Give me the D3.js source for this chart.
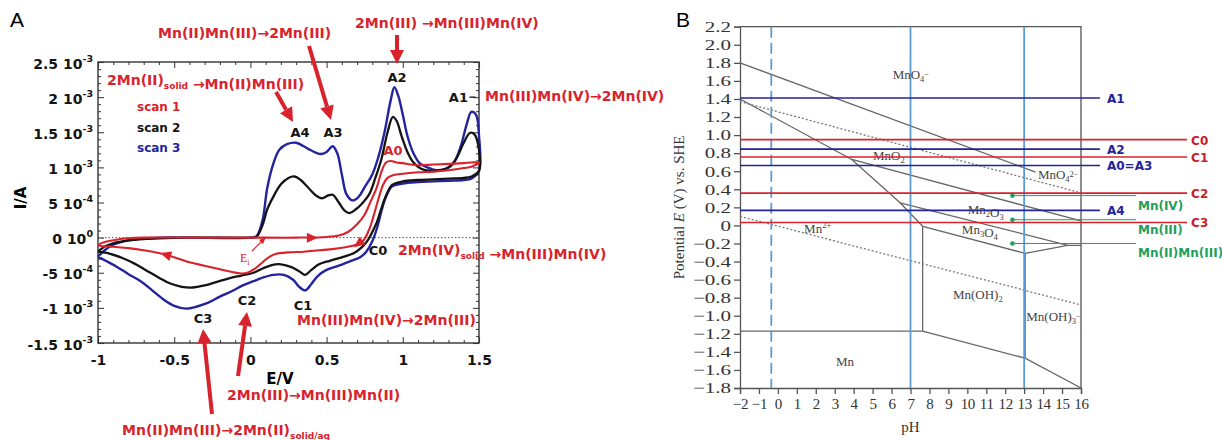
<!DOCTYPE html>
<html><head><meta charset="utf-8">
<script src="https://cdn.jsdelivr.net/npm/d3@7"></script>
<style>
body{margin:0;background:#fff;}
svg{display:block;}
</style></head><body>
<svg id="fig" width="1222" height="440"></svg>
<script>
// ---------- Panel A: cyclic voltammograms (E in V, I in mA) ----------
const scan1 = [
  [0.10,0.0],[0.30,0.0],[0.50,0.01],[0.58,0.03],[0.64,0.08],[0.70,0.19],[0.75,0.33],[0.79,0.52],
  [0.83,0.72],[0.86,0.94],[0.89,1.07],[0.92,1.09],[0.96,1.07],[1.00,1.06],[1.05,1.04],[1.10,1.03],
  [1.20,1.04],[1.30,1.05],[1.40,1.06],[1.45,1.07],[1.50,1.07],
  [1.45,1.01],[1.40,0.99],[1.30,0.96],[1.20,0.94],[1.10,0.93],[1.00,0.91],[0.94,0.89],[0.90,0.85],
  [0.87,0.75],[0.84,0.55],[0.81,0.32],[0.78,0.12],[0.745,-0.03],[0.71,-0.09],[0.64,-0.13],[0.55,-0.16],
  [0.45,-0.18],[0.35,-0.20],[0.25,-0.21],[0.17,-0.23],[0.12,-0.28],[0.08,-0.35],[0.03,-0.44],
  [-0.02,-0.50],[-0.06,-0.51],[-0.12,-0.49],[-0.20,-0.45],[-0.30,-0.40],[-0.40,-0.35],[-0.50,-0.28],
  [-0.60,-0.22],[-0.70,-0.18],[-0.80,-0.15],[-0.90,-0.13],[-1.00,-0.11],
  [-0.95,-0.06],[-0.88,-0.03],[-0.80,-0.01],[-0.70,0.0],[-0.40,0.0],[0.00,0.0],[0.10,0.0]
];
const scan2 = [
  [-1.00,-0.20],[-0.95,-0.12],[-0.90,-0.08],[-0.80,-0.04],[-0.70,-0.02],[-0.60,-0.01],[-0.40,0.0],
  [0.00,0.0],[0.04,0.01],[0.08,0.18],[0.11,0.40],[0.15,0.58],[0.20,0.76],[0.25,0.85],[0.29,0.87],
  [0.33,0.82],[0.38,0.71],[0.43,0.60],[0.47,0.56],[0.51,0.60],[0.54,0.61],[0.58,0.50],[0.62,0.38],
  [0.65,0.35],[0.69,0.40],[0.73,0.48],[0.78,0.62],[0.82,0.85],[0.86,1.12],[0.90,1.50],[0.935,1.72],
  [0.96,1.66],[0.99,1.46],[1.03,1.22],[1.07,1.07],[1.12,0.98],[1.18,0.95],[1.25,0.96],[1.30,1.00],
  [1.35,1.12],[1.40,1.35],[1.44,1.49],[1.47,1.47],[1.50,1.25],[1.50,0.95],
  [1.45,0.87],[1.40,0.85],[1.30,0.84],[1.20,0.83],[1.10,0.82],[1.00,0.80],[0.93,0.75],[0.89,0.60],
  [0.86,0.42],[0.83,0.22],[0.80,0.08],[0.77,-0.04],[0.73,-0.14],[0.68,-0.22],[0.60,-0.28],
  [0.52,-0.33],[0.45,-0.38],[0.40,-0.46],[0.36,-0.53],[0.32,-0.48],[0.27,-0.42],[0.20,-0.38],
  [0.14,-0.39],[0.08,-0.44],[0.02,-0.50],[-0.06,-0.54],[-0.14,-0.58],[-0.22,-0.63],[-0.30,-0.68],
  [-0.38,-0.71],[-0.45,-0.70],[-0.53,-0.65],[-0.60,-0.57],[-0.68,-0.47],[-0.76,-0.37],
  [-0.84,-0.29],[-0.92,-0.23],[-1.00,-0.20]
];
const scan3 = [
  [-1.00,-0.27],[-0.95,-0.17],[-0.90,-0.10],[-0.80,-0.04],[-0.70,-0.01],[-0.60,0.0],[-0.40,0.0],
  [0.00,0.0],[0.04,0.02],[0.08,0.25],[0.11,0.70],[0.15,1.05],[0.19,1.25],[0.24,1.33],[0.30,1.35],
  [0.35,1.30],[0.40,1.24],[0.46,1.19],[0.50,1.22],[0.54,1.30],[0.57,1.20],[0.60,0.90],[0.63,0.62],
  [0.67,0.53],[0.71,0.58],[0.75,0.72],[0.80,0.90],[0.84,1.15],[0.88,1.50],[0.92,1.95],[0.945,2.14],
  [0.97,2.02],[1.00,1.75],[1.03,1.45],[1.07,1.20],[1.11,1.06],[1.16,1.00],[1.22,0.96],[1.28,0.98],
  [1.33,1.05],[1.38,1.30],[1.42,1.62],[1.45,1.79],[1.48,1.75],[1.50,1.45],[1.50,0.95],
  [1.45,0.84],[1.40,0.82],[1.30,0.81],[1.20,0.80],[1.10,0.79],[1.00,0.77],[0.93,0.73],[0.89,0.58],
  [0.86,0.38],[0.83,0.13],[0.80,-0.05],[0.76,-0.20],[0.72,-0.28],[0.65,-0.34],[0.58,-0.40],
  [0.50,-0.46],[0.44,-0.55],[0.40,-0.66],[0.36,-0.75],[0.32,-0.70],[0.28,-0.60],[0.22,-0.53],
  [0.15,-0.53],[0.08,-0.57],[0.02,-0.62],[-0.05,-0.68],[-0.12,-0.76],[-0.20,-0.84],[-0.28,-0.93],
  [-0.35,-0.98],[-0.42,-1.01],[-0.50,-0.97],[-0.57,-0.88],[-0.65,-0.74],[-0.72,-0.62],
  [-0.80,-0.52],[-0.88,-0.41],[-0.95,-0.33],[-1.00,-0.27]
];
const scanNames = ["scan 1", "scan 2", "scan 3"];
// direction arrows along scan 1: [fromE, fromI, toE, toI]
const scan1Arrows = [[0.34,0.0,0.41,0.0],[0.75,-0.02,0.705,-0.095],[-0.49,-0.285,-0.56,-0.24]];
const eTicks = [-1, -0.5, 0, 0.5, 1, 1.5];
const iTicks = [2.5, 2, 1.5, 1, 0.5, 0, -0.5, -1, -1.5];
const iTickMant = ["2.5 10", "2 10", "1.5 10", "1 10", "5 10", "0 10", "-5 10", "-1 10", "-1.5 10"];
const iTickExp = ["-3", "-3", "-3", "-3", "-4", "0", "-4", "-3", "-3"];
// peak labels [name, E, I]
const anodicPeaks = [["A4",0.325,1.50],["A3",0.542,1.50],["A2",0.962,2.29],["A1",1.365,2.00]];
const cathodicPeaks = [["C0",0.837,-0.18],["C1",0.345,-0.96],["C2",-0.022,-0.89],["C3",-0.311,-1.15]];

// ---------- Panel B: Pourbaix diagram (pH, E vs SHE) ----------
const pHTicks = d3.range(-2, 17, 1);
const potTicks = d3.range(-18, 23, 2).map(v => v / 10);
const boundaries = [
  [[-2,1.80],[13.6,0.59]],
  [[-2,1.40],[3.9,0.73],[6.45,0.25],[7.64,-0.01]],
  [[3.9,0.73],[16,0.05]],
  [[6.45,0.25],[15.3,-0.22]],
  [[7.64,-0.01],[13.05,-0.31],[15.3,-0.22],[16,-0.22]],
  [[7.64,-0.01],[7.64,-1.17]],
  [[-2,-1.17],[7.64,-1.17]],
  [[7.64,-1.17],[13.05,-1.47],[16,-1.80]],
  [[13.05,-0.31],[13.05,-1.47]]
];
const waterLines = [
  [[-2,1.37],[16,0.36]],
  [[-2,0.10],[16,-0.88]]
];
const markedPH = [7, 13];
const dashedPH = [-0.35];
const anodicNames = ["A1", "A2", "A0=A3", "A4"];
const anodicE = [1.41, 0.845, 0.664, 0.166];
const cathodicNames = ["C0", "C1", "C2", "C3"];
const cathodicE = [0.95, 0.757, 0.358, 0.033];
const oxNames = ["Mn(IV)", "Mn(III)", "Mn(II)Mn(III)"];
const oxE = [0.33, 0.063, -0.20];
const oxPH = 12.38;
// species labels [text parts, pH, E]
const species = [
  [[["MnO",""],["4","sub"],["\u2212","sup"]], 7.02, 1.67],
  [[["MnO",""],["2","sub"]], 5.86, 0.77],
  [[["MnO",""],["4","sub"],["2\u2212","sup"]], 14.8, 0.56],
  [[["Mn",""],["2","sub"],["O",""],["3","sub"]], 10.97, 0.17],
  [[["Mn",""],["3","sub"],["O",""],["4","sub"]], 10.66, -0.05],
  [[["Mn",""],["2+","sup"]], 2.1, -0.04],
  [[["Mn(OH)",""],["2","sub"]], 10.55, -0.77],
  [[["Mn(OH)",""],["3","sub"],["\u2212","sup"]], 14.55, -1.01],
  [[["Mn",""]], 3.54, -1.51]
];

const RED = "#d8232c", BLUE = "#23239c", BLACK = "#141414", GREEN = "#1f9e5a", LBLUE = "#5b9bd3";
const svg = d3.select("#fig");
const sans = "'DejaVu Sans', Verdana, sans-serif";
const plain = "'Liberation Sans', Arial, sans-serif";
const serif = "'Liberation Serif', 'Times New Roman', serif";

// ================= Panel A =================
const xA = d3.scaleLinear().domain([-1, 1.5]).range([98, 479]);
const yA = d3.scaleLinear().domain([-1.5, 2.5]).range([343, 62]);
const gA = svg.append("g");

svg.append("text").attr("x", 10).attr("y", 27).attr("font-family", plain)
  .attr("font-size", 21).text("A");

// zero-current guide
gA.append("line").attr("x1", xA(-1)).attr("x2", xA(1.5)).attr("y1", yA(0)).attr("y2", yA(0))
  .attr("stroke", "#555").attr("stroke-width", 1).attr("stroke-dasharray", "1.5,2");

// minor ticks on all four sides (inward)
const minorE = d3.range(-10, 16).map(v => v / 10).filter(v => !eTicks.some(t => Math.abs(t - v) < 1e-9));
const minorI = d3.range(-15, 26).map(v => v / 10).filter(v => !iTicks.some(t => Math.abs(t - v) < 1e-9));
function tickAxis(axis, transform) {
  const g = gA.append("g").attr("transform", transform).call(axis);
  g.select(".domain").remove();
  g.selectAll("line").attr("stroke", "#444").attr("stroke-width", 1.1);
  return g;
}
tickAxis(d3.axisBottom(xA).tickValues(minorE).tickSize(-3).tickFormat(""), `translate(0,${yA(-1.5)})`);
tickAxis(d3.axisTop(xA).tickValues(minorE).tickSize(-3).tickFormat(""), `translate(0,${yA(2.5)})`);
tickAxis(d3.axisLeft(yA).tickValues(minorI).tickSize(-3).tickFormat(""), `translate(${xA(-1)},0)`);
tickAxis(d3.axisRight(yA).tickValues(minorI).tickSize(-3).tickFormat(""), `translate(${xA(1.5)},0)`);
tickAxis(d3.axisTop(xA).tickValues(eTicks).tickSize(-6).tickFormat(""), `translate(0,${yA(2.5)})`);
tickAxis(d3.axisRight(yA).tickValues(iTicks).tickSize(-6).tickFormat(""), `translate(${xA(1.5)},0)`);

const axB = tickAxis(d3.axisBottom(xA).tickValues(eTicks).tickSize(-6).tickPadding(9)
  .tickFormat(d => d3.format("")(d).replace("\u2212", "-")), `translate(0,${yA(-1.5)})`);
axB.selectAll("text").attr("font-family", sans).attr("font-weight", "bold").attr("font-size", 14)
  .attr("fill", BLACK).attr("dy", "0.95em");

const axL = tickAxis(d3.axisLeft(yA).tickValues(iTicks).tickSize(-6).tickPadding(6).tickFormat(""),
  `translate(${xA(-1)},0)`);
axL.selectAll(".tick").each(function (d, i) {
  const t = d3.select(this).append("text").attr("x", -5).attr("y", 6)
    .attr("text-anchor", "end").attr("font-family", sans).attr("font-weight", "bold")
    .attr("font-size", 14).attr("fill", BLACK);
  t.append("tspan").text(iTickMant[i]);
  t.append("tspan").attr("font-size", 9.5).attr("dy", -7).text(iTickExp[i]);
});

gA.append("rect").attr("x", xA(-1)).attr("y", yA(2.5)).attr("width", xA(1.5) - xA(-1))
  .attr("height", yA(-1.5) - yA(2.5)).attr("fill", "none").attr("stroke", "#333").attr("stroke-width", 1.4);

gA.append("text").attr("x", 280).attr("y", 384).attr("text-anchor", "middle").attr("font-family", sans)
  .attr("font-weight", "bold").attr("font-size", 15).text("E/V");
gA.append("text").attr("transform", "translate(26,198) rotate(-90)").attr("text-anchor", "middle")
  .attr("font-family", sans).attr("font-weight", "bold").attr("font-size", 15).text("I/A");

// voltammograms
const cvLine = d3.line().x(d => xA(d[0])).y(d => yA(d[1])).curve(d3.curveCatmullRom.alpha(0.5));
[[scan3, BLUE, 2.4], [scan2, BLACK, 2.3], [scan1, RED, 2.1]].forEach(([data, col, w]) => {
  gA.append("path").datum(data).attr("d", cvLine).attr("fill", "none").attr("stroke", col)
    .attr("stroke-width", w).attr("stroke-linejoin", "round");
});
scan1Arrows.forEach(a => {
  const x1 = xA(a[0]), y1 = yA(a[1]), x2 = xA(a[2]), y2 = yA(a[3]);
  const ang = Math.atan2(y2 - y1, x2 - x1) * 180 / Math.PI;
  gA.append("path").attr("d", "M5,0 L-6,-5 L-6,5 Z").attr("fill", RED)
    .attr("transform", `translate(${x2},${y2}) rotate(${ang})`);
});

// legend
scanNames.forEach((n, i) => {
  gA.append("text").attr("x", 137).attr("y", 111 + i * 20.5).attr("font-family", sans)
    .attr("font-weight", "bold").attr("font-size", 12).attr("fill", [RED, BLACK, BLUE][i]).text(n);
});

// peak labels
anodicPeaks.concat(cathodicPeaks).forEach(p => {
  gA.append("text").attr("x", xA(p[1])).attr("y", yA(p[2]) + 5).attr("text-anchor", "middle")
    .attr("font-family", sans).attr("font-weight", "bold").attr("font-size", 13).attr("fill", BLACK)
    .text(p[0]);
});
gA.append("line").attr("x1", xA(1.365) + 11).attr("x2", xA(1.365) + 17).attr("y1", yA(2.0))
  .attr("y2", yA(2.0)).attr("stroke", BLACK).attr("stroke-width", 1.3);
gA.append("text").attr("x", xA(0.936)).attr("y", yA(1.25) + 5).attr("text-anchor", "middle")
  .attr("font-family", sans).attr("font-weight", "bold").attr("font-size", 13).attr("fill", RED).text("A0");

// reaction annotations
function rxn(x, y, parts) {
  const t = svg.append("text").attr("x", x).attr("y", y).attr("font-family", sans)
    .attr("font-weight", "bold").attr("font-size", 14).attr("fill", RED);
  parts.forEach(p => {
    if (p[1] === "sub") {
      t.append("tspan").attr("font-size", 9).attr("dy", 4).text(p[0]);
      t.append("tspan").attr("dy", -4).text("");
    } else t.append("tspan").text(p[0]);
  });
  return t;
}
rxn(158, 38, [["Mn(II)Mn(III)\u21922Mn(III)"]]);
rxn(355, 28, [["2Mn(III) \u2192Mn(III)Mn(IV)"]]);
rxn(107, 85, [["2Mn(II)"], ["solid", "sub"], [" \u2192Mn(II)Mn(III)"]]);
rxn(485, 101, [["Mn(III)Mn(IV)\u21922Mn(IV)"]]);
rxn(398, 255, [["2Mn(IV)"], ["solid", "sub"], [" \u2192Mn(III)Mn(IV)"]]);
rxn(297, 325, [["Mn(III)Mn(IV)\u21922Mn(III)"]]);
rxn(227, 400, [["2Mn(III)\u2192Mn(III)Mn(II)"]]);
rxn(122, 435, [["Mn(II)Mn(III)\u21922Mn(II)"], ["solid/aq", "sub"]]);

function bigArrow(x1, y1, x2, y2) {
  const ang = Math.atan2(y2 - y1, x2 - x1);
  const hl = 14, hw = 7;
  const bx = x2 - hl * Math.cos(ang), by = y2 - hl * Math.sin(ang);
  svg.append("line").attr("x1", x1).attr("y1", y1).attr("x2", bx).attr("y2", by)
    .attr("stroke", RED).attr("stroke-width", 4);
  const px = -Math.sin(ang) * hw, py = Math.cos(ang) * hw;
  svg.append("path").attr("d", `M${x2},${y2}L${bx + px},${by + py}L${bx - px},${by - py}Z`).attr("fill", RED);
}
bigArrow(309, 46, 331, 120);
bigArrow(397, 35, 397, 64);
bigArrow(276, 92, 293, 122);
bigArrow(212, 414, 203, 329);
bigArrow(238, 376, 247, 312);

// E_i marker
const ei = svg.append("text").attr("x", 240).attr("y", 262).attr("font-family", serif)
  .attr("font-size", 12).attr("fill", RED);
ei.append("tspan").text("E");
ei.append("tspan").attr("font-size", 8).attr("dy", 3).text("i");
svg.append("line").attr("x1", 252).attr("y1", 251).attr("x2", 262).attr("y2", 241)
  .attr("stroke", RED).attr("stroke-width", 1.2);
svg.append("path").attr("d", "M266,237 L259,240 L263,244 Z").attr("fill", RED);

// ================= Panel B =================
const xB = d3.scaleLinear().domain([-2, 16]).range([740, 1081]);
const yB = d3.scaleLinear().domain([-1.8, 2.2]).range([388, 26.7]);
const gB = svg.append("g");
const GRAY = "#555";

svg.append("text").attr("x", 676).attr("y", 27).attr("font-family", plain)
  .attr("font-size", 21).text("B");

const bx = gB.append("g").attr("transform", `translate(0,${yB(-1.8)})`)
  .call(d3.axisBottom(xB).tickValues(pHTicks).tickSize(6).tickPadding(4)
    .tickFormat(d => d < 0 ? "\u2212" + Math.abs(d) : d));
const by = gB.append("g").attr("transform", `translate(${xB(-2)},0)`)
  .call(d3.axisLeft(yB).tickValues(potTicks).tickSize(6).tickPadding(3)
    .tickFormat(d => Math.abs(d) < 1e-9 ? "0" : (d < 0 ? "\u2212" + d3.format(".1f")(-d) : d3.format(".1f")(d))));
[bx, by].forEach(g => {
  g.selectAll("line, path").attr("stroke", GRAY).attr("stroke-width", 1.3);
  g.selectAll("text").attr("font-family", serif).attr("font-size", 15).attr("fill", "#333");
});
bx.selectAll("text").attr("letter-spacing", "-0.3px");
// the potential labels are set wide
by.selectAll("text").each(function () {
  const len = this.getComputedTextLength();
  d3.select(this).attr("textLength", len * 1.4).attr("lengthAdjust", "spacingAndGlyphs");
});
gB.append("path").attr("d", `M${xB(-2)},${yB(2.2)}H${xB(16)}V${yB(-1.8)}`)
  .attr("fill", "none").attr("stroke", GRAY).attr("stroke-width", 1.3);

gB.append("text").attr("x", xB(7)).attr("y", 432).attr("text-anchor", "middle")
  .attr("font-family", serif).attr("font-size", 15).attr("fill", "#333").text("pH");
const yt = gB.append("text").attr("transform", `translate(684,${yB(0.2)}) rotate(-90)`)
  .attr("text-anchor", "middle").attr("font-family", serif).attr("font-size", 15).attr("fill", "#333");
yt.append("tspan").text("Potential ");
yt.append("tspan").attr("font-style", "italic").text("E");
yt.append("tspan").text(" (V) vs. SHE");

const pLine = d3.line().x(d => xB(d[0])).y(d => yB(d[1]));
boundaries.forEach(b => gB.append("path").datum(b).attr("d", pLine).attr("fill", "none")
  .attr("stroke", "#666").attr("stroke-width", 1.3));
waterLines.forEach(b => gB.append("path").datum(b).attr("d", pLine).attr("fill", "none")
  .attr("stroke", "#777").attr("stroke-width", 1.3).attr("stroke-dasharray", "2,2"));

markedPH.forEach(p => gB.append("line").attr("x1", xB(p)).attr("x2", xB(p)).attr("y1", yB(2.2))
  .attr("y2", yB(-1.8)).attr("stroke", LBLUE).attr("stroke-width", 1.8));
dashedPH.forEach(p => gB.append("line").attr("x1", xB(p)).attr("x2", xB(p)).attr("y1", yB(2.2))
  .attr("y2", yB(-1.8)).attr("stroke", LBLUE).attr("stroke-width", 1.8).attr("stroke-dasharray", "11,5"));

// species labels
species.forEach(s => {
  const t = gB.append("text").attr("x", xB(s[1])).attr("y", yB(s[2]) + 4).attr("text-anchor", "middle")
    .attr("font-family", serif).attr("font-size", 13).attr("fill", "#444");
  s[0].forEach(([txt, kind]) => {
    if (kind === "sub") { t.append("tspan").attr("font-size", 8.5).attr("dy", 3).text(txt); t.append("tspan").attr("dy", -3).text(""); }
    else if (kind === "sup") { t.append("tspan").attr("font-size", 8.5).attr("dy", -5).text(txt); t.append("tspan").attr("dy", 5).text(""); }
    else t.append("tspan").text(txt);
  });
});

// green oxidation-state markers
const greenEndPH = 18.9;
oxE.forEach((e, i) => {
  gB.append("line").attr("x1", xB(oxPH)).attr("x2", xB(greenEndPH)).attr("y1", yB(e)).attr("y2", yB(e))
    .attr("stroke", GREEN).attr("stroke-width", 1);
  gB.append("circle").attr("cx", xB(oxPH)).attr("cy", yB(e)).attr("r", 2.3).attr("fill", GREEN);
  gB.append("text").attr("x", xB(greenEndPH) + 2).attr("y", yB(e) + 14).attr("font-family", sans)
    .attr("font-weight", "bold").attr("font-size", 12).attr("fill", GREEN).text(oxNames[i]);
});

// CV peak potentials
const blueEndPH = 17.0, redEndPH = 21.6;
cathodicE.forEach((e, i) => {
  gB.append("line").attr("x1", xB(-2)).attr("x2", xB(redEndPH)).attr("y1", yB(e)).attr("y2", yB(e))
    .attr("stroke", RED).attr("stroke-width", 1.6);
  gB.append("text").attr("x", xB(redEndPH) + 4).attr("y", yB(e) + 5).attr("font-family", sans)
    .attr("font-weight", "bold").attr("font-size", 12).attr("fill", "#c8202a").text(cathodicNames[i]);
});
anodicE.forEach((e, i) => {
  gB.append("line").attr("x1", xB(-2)).attr("x2", xB(blueEndPH)).attr("y1", yB(e)).attr("y2", yB(e))
    .attr("stroke", BLUE).attr("stroke-width", 1.6);
  gB.append("text").attr("x", xB(blueEndPH) + 7).attr("y", yB(e) + 5).attr("font-family", sans)
    .attr("font-weight", "bold").attr("font-size", 12).attr("fill", BLUE).text(anodicNames[i]);
});
</script>
</body></html>
